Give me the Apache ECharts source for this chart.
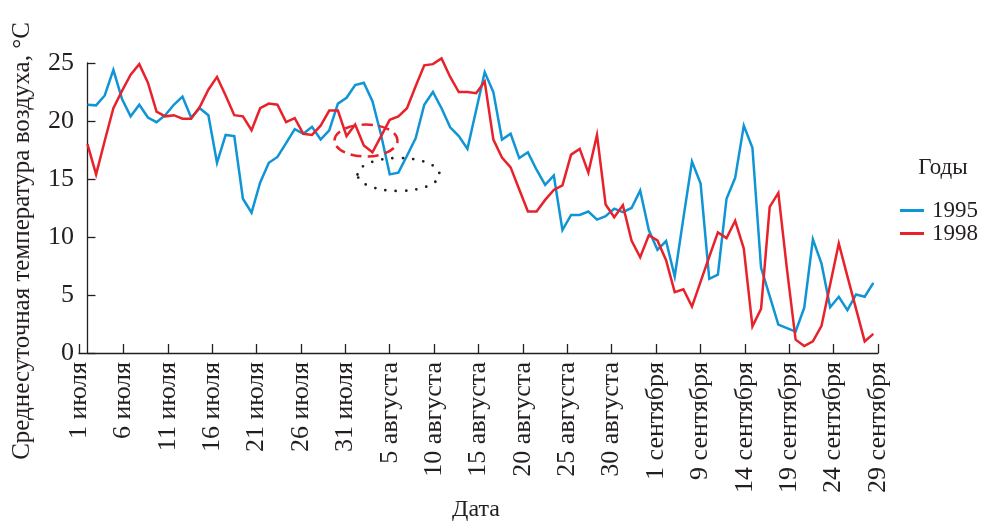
<!DOCTYPE html>
<html>
<head>
<meta charset="utf-8">
<script src="https://cdn.jsdelivr.net/npm/echarts@6/dist/echarts.min.js"></script>
<style>
  html, body { margin: 0; padding: 0; background: #fff; }
  #chart { width: 981px; height: 522px; }
</style>
</head>
<body>
<div id="chart"></div>
<script>
// Daily mean air temperature, 1 July .. 30 September (one value per day)
const temps1995 = [
  21.4, 21.35, 22.2, 24.4, 21.9, 20.4, 21.4, 20.3, 19.9, 20.5,
  21.4, 22.1, 20.3, 21.1, 20.5, 16.4, 18.8, 18.7, 13.3, 12.1,
  14.7, 16.4, 16.9, 18.1, 19.3, 18.9, 19.5, 18.4, 19.2, 21.5,
  22.0, 23.1, 23.3, 21.7, 18.8, 15.4, 15.55, 17.0, 18.5, 21.4,
  22.5, 21.1, 19.45, 18.7, 17.6, 20.9, 24.2, 22.5, 18.4, 18.9,
  16.8, 17.3, 15.8, 14.5, 15.3, 10.6, 11.9, 11.9, 12.2, 11.5,
  11.8, 12.45, 12.15, 12.5, 14.0, 10.6, 8.9, 9.65, 6.6, 11.6,
  16.5, 14.6, 6.4, 6.75, 13.3, 15.1, 19.6, 17.7, 7.35, 4.9,
  2.45, 2.15, 1.85, 3.9, 9.8, 7.7, 3.95, 4.85, 3.7, 5.05,
  4.85, 6.05
];
const temps1998 = [
  18.0, 15.4, 18.3, 21.1, 22.6, 24.0, 24.9, 23.3, 20.8, 20.4,
  20.5, 20.2, 20.2, 21.2, 22.7, 23.8, 22.2, 20.5, 20.4, 19.2,
  21.1, 21.5, 21.4, 19.9, 20.25, 18.9, 18.8, 19.6, 20.9, 20.9,
  18.7, 19.7, 17.9, 17.3, 18.7, 20.1, 20.4, 21.1, 23.0, 24.8,
  24.9, 25.4, 23.8, 22.5, 22.5, 22.4, 23.4, 18.4, 16.85, 16.0,
  14.1, 12.2, 12.2, 13.2, 14.05, 14.45, 17.1, 17.6, 15.55, 18.8,
  12.8, 11.7, 12.75, 9.7, 8.25, 10.15, 9.7, 8.0, 5.25, 5.5,
  4.0, 6.15, 8.3, 10.4, 9.9, 11.4, 9.0, 2.3, 3.8, 12.6,
  13.8, 7.2, 1.15, 0.6, 1.0, 2.35, 5.9, 9.45, 6.6, 3.8,
  1.0, 1.65
];
const seriesNames = ['1995', '1998'];
const tickLabels = [
  '1 июля', '6 июля', '11 июля', '16 июля', '21 июля', '26 июля', '31 июля',
  '5 августа', '10 августа', '15 августа', '20 августа', '25 августа', '30 августа',
  '1 сентября', '9 сентября', '14 сентября', '19 сентября', '24 сентября', '29 сентября'
];
const yTitle = 'Среднесуточная температура воздуха, °C';
const xTitle = 'Дата';
const legendTitle = 'Годы';

const INK = '#231f20';
const BLUE = '#0f95d5';
const RED = '#e8222a';
const SERIF = '"Liberation Serif", "DejaVu Serif", serif';

const toPairs = arr => arr.map((v, i) => [i, v]);

const chart = echarts.init(document.getElementById('chart'));
chart.setOption({
  backgroundColor: '#fff',
  animation: false,
  grid: { left: 79, right: 103, top: 63, bottom: 169 },
  xAxis: [
    {
      // day-index axis carrying the series
      type: 'value', min: -0.98, max: 91.54, show: false
    },
    {
      // labelled date axis
      type: 'category', position: 'bottom', data: tickLabels, boundaryGap: false,
      axisLine: { show: true, lineStyle: { color: INK, width: 1.3 } },
      axisTick: { show: true, inside: true, length: 9, interval: 0, lineStyle: { color: INK, width: 1.3 } },
      axisLabel: {
        interval: 0, rotate: 90, margin: 9,
        fontFamily: SERIF, fontSize: 26, color: INK
      },
      splitLine: { show: false }
    }
  ],
  yAxis: {
    type: 'value', min: 0, max: 25, interval: 5,
    axisLine: { show: true, lineStyle: { color: INK, width: 1.3 } },
    axisTick: { show: true, inside: true, length: 8, lineStyle: { color: INK, width: 1.3 } },
    axisLabel: { margin: 5, fontFamily: SERIF, fontSize: 26, color: INK },
    splitLine: { show: false }
  },
  legend: {
    data: seriesNames, orient: 'vertical', left: 895, top: 194,
    icon: 'rect', itemWidth: 24, itemHeight: 3, itemGap: 0,
    textStyle: { fontFamily: SERIF, fontSize: 23, color: INK, lineHeight: 23, padding: [0, 0, 0, 3] }
  },
  series: [
    {
      name: seriesNames[0], type: 'line', xAxisIndex: 0, data: toPairs(temps1995),
      symbol: 'none', clip: false, color: BLUE, lineStyle: { width: 2.5, color: BLUE, join: 'miter' }
    },
    {
      name: seriesNames[1], type: 'line', xAxisIndex: 0, data: toPairs(temps1998),
      symbol: 'none', clip: false, color: RED, lineStyle: { width: 2.5, color: RED, join: 'miter' }
    }
  ],
  graphic: [
    {
      type: 'text', x: 22, y: 241, rotation: Math.PI / 2,
      style: { text: yTitle, fontFamily: SERIF, fontSize: 25, fill: INK, align: 'center', verticalAlign: 'middle' }
    },
    {
      type: 'text', x: 476, y: 510,
      style: { text: xTitle, fontFamily: SERIF, fontSize: 24, fill: INK, align: 'center', verticalAlign: 'middle' }
    },
    {
      type: 'text', x: 943, y: 168,
      style: { text: legendTitle, fontFamily: SERIF, fontSize: 23, fill: INK, align: 'center', verticalAlign: 'middle' }
    },
    {
      // dashed red ring
      type: 'ellipse', z: 100,
      shape: { cx: 366, cy: 140.5, rx: 31.5, ry: 16 },
      style: { fill: null, stroke: RED, lineWidth: 2.5, lineDash: [11, 6] }
    },
    {
      // dotted black ring
      type: 'ellipse', z: 100,
      shape: { cx: 398.5, cy: 174.5, rx: 41, ry: 16.5 },
      style: { fill: null, stroke: INK, lineWidth: 2.8, lineDash: [0, 10.3], lineCap: 'round' }
    }
  ]
});
</script>
</body>
</html>
